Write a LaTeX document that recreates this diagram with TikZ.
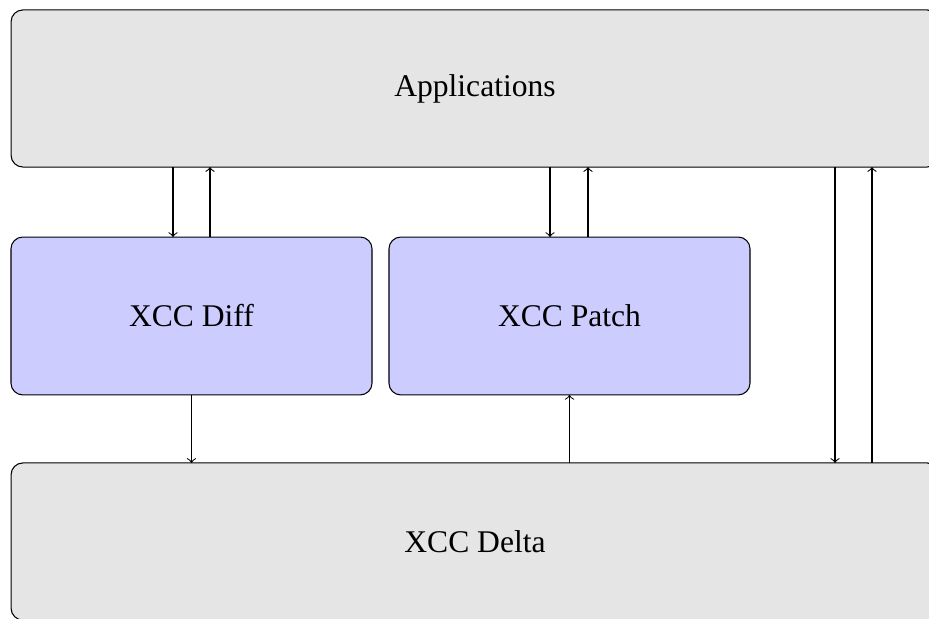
\documentclass[tikz,border=0pt]{standalone}
\usepackage{fontspec}
\setmainfont{Liberation Serif}
\begin{document}
\begin{tikzpicture}[x=0.38pt,y=-0.38pt,
  layer/.style={draw, fill=black!10, rounded corners=4.5pt, inner sep=0pt, outer sep=0pt,
    minimum width=352.6pt, minimum height=59.7pt, font=\fontsize{12}{14}\selectfont},
  tool/.style={draw, fill=blue!20, rounded corners=4.5pt, inner sep=0pt, outer sep=0pt,
    minimum width=137.2pt, minimum height=60pt, font=\fontsize{12}{14}\selectfont},
  link/.style={->, line width=0.4pt}]
  \useasboundingbox (0,0) rectangle (929,619);
  \clip (0,0) rectangle (929,619);

  % boxes
  \node[layer] (app) at (475,88.5) {Applications};
  \node[tool] (diff) at (191.5,316) {XCC Diff};
  \node[tool] (patch) at (569.5,316) {XCC Patch};
  \node[layer] (delta) at (475,541.5) {XCC Delta};

  % applications <-> diff / patch
  \draw[link] (173,0 |- app.south) -- (173,0 |- diff.north);
  \draw[link] (210,0 |- diff.north) -- (210,0 |- app.south);
  \draw[link] (550,0 |- app.south) -- (550,0 |- patch.north);
  \draw[link] (588,0 |- patch.north) -- (588,0 |- app.south);

  % diff -> delta, delta -> patch
  \draw[link] (diff.south) -- (191.5,0 |- delta.north);
  \draw[link] (569.5,0 |- delta.north) -- (patch.south);

  % applications <-> delta directly
  \draw[link] (835,0 |- app.south) -- (835,0 |- delta.north);
  \draw[link] (872,0 |- delta.north) -- (872,0 |- app.south);
\end{tikzpicture}
\end{document}
